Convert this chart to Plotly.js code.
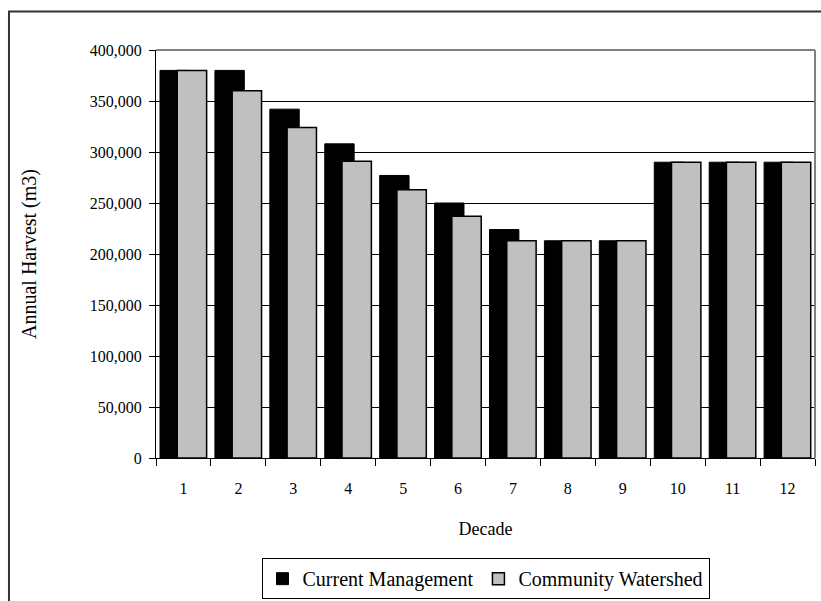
<!DOCTYPE html>
<html>
<head>
<meta charset="utf-8">
<script src="https://cdn.plot.ly/plotly-3.0.1.min.js"></script>
<style>
  html, body { margin: 0; padding: 0; background: #ffffff; }
  #chart { width: 821px; height: 601px; }
</style>
</head>
<body>
<div id="chart"></div>
<script>
// Annual harvest per decade under two management scenarios
const decades = ['1', '2', '3', '4', '5', '6', '7', '8', '9', '10', '11', '12'];
const currentManagement = [380000, 380000, 342000, 308000, 277000, 250000, 224000, 213000, 213000, 290000, 290000, 290000];
const communityWatershed = [380000, 360000, 324000, 291000, 263000, 237000, 213000, 213000, 213000, 290000, 290000, 290000];
const yTicks = [0, 50000, 100000, 150000, 200000, 250000, 300000, 350000, 400000];

const serif = 'Liberation Serif';

const traces = [
  {
    type: 'bar',
    name: 'Current Management',
    x: decades,
    y: currentManagement,
    width: 0.535,
    offset: -0.427,
    marker: { color: '#000000', line: { color: '#000000', width: 1 } },
    hoverinfo: 'x+y'
  },
  {
    type: 'bar',
    name: 'Community Watershed',
    x: decades,
    y: communityWatershed,
    width: 0.535,
    offset: -0.113,
    marker: { color: '#C0C0C0', line: { color: '#000000', width: 1.5 } },
    hoverinfo: 'x+y'
  }
];

const layout = {
  width: 821,
  height: 601,
  margin: { l: 156, r: 6, t: 50, b: 143, pad: 0, autoexpand: false },
  paper_bgcolor: '#ffffff',
  plot_bgcolor: '#ffffff',
  barmode: 'overlay',
  font: { family: serif, size: 16, color: '#000000' },
  showlegend: true,
  legend: {
    orientation: 'h',
    x: 0.5,
    xanchor: 'center',
    y: -0.346,
    yanchor: 'bottom',
    bgcolor: '#ffffff',
    bordercolor: '#000000',
    borderwidth: 1,
    font: { family: serif, size: 20, color: '#000000' },
    traceorder: 'normal'
  },
  xaxis: {
    type: 'category',
    automargin: false,
    showline: true,
    linecolor: '#000000',
    linewidth: 1,
    showgrid: false,
    zeroline: false,
    ticks: 'outside',
    tickson: 'boundaries',
    ticklen: 7,
    tickcolor: '#000000',
    tickwidth: 1,
    ticklabelstandoff: 16,
    tickfont: { family: serif, size: 16, color: '#000000' },
    title: { text: 'Decade', standoff: 26, font: { family: serif, size: 18, color: '#000000' } }
  },
  yaxis: {
    automargin: false,
    range: [0, 400000],
    tickvals: yTicks,
    tickformat: ',d',
    showline: true,
    linecolor: '#000000',
    linewidth: 1,
    showgrid: true,
    gridcolor: '#000000',
    gridwidth: 1,
    zeroline: false,
    ticks: 'outside',
    ticklen: 6,
    tickcolor: '#000000',
    tickwidth: 1,
    ticklabelstandoff: 4,
    tickfont: { family: serif, size: 16, color: '#000000' },
    title: { text: 'Annual Harvest (m3)', standoff: 47, font: { family: serif, size: 20, color: '#000000' } }
  },
  shapes: [
    // grey top and right edges of the plot frame
    { type: 'line', xref: 'paper', yref: 'paper', x0: 0, x1: 1, y0: 1, y1: 1, line: { color: '#808080', width: 2 }, layer: 'above' },
    { type: 'line', xref: 'paper', yref: 'paper', x0: 1, x1: 1, y0: 0, y1: 1, line: { color: '#808080', width: 2 }, layer: 'above' },
    // outer chart border
    { type: 'rect', xref: 'paper', yref: 'paper', x0: -0.2231, x1: 1.05, y0: -0.5, y1: 1.0944, line: { color: '#333333', width: 2 }, fillcolor: 'rgba(0,0,0,0)', layer: 'below' }
  ]
};

Plotly.newPlot('chart', traces, layout, { staticPlot: true, displayModeBar: false });
</script>
</body>
</html>
